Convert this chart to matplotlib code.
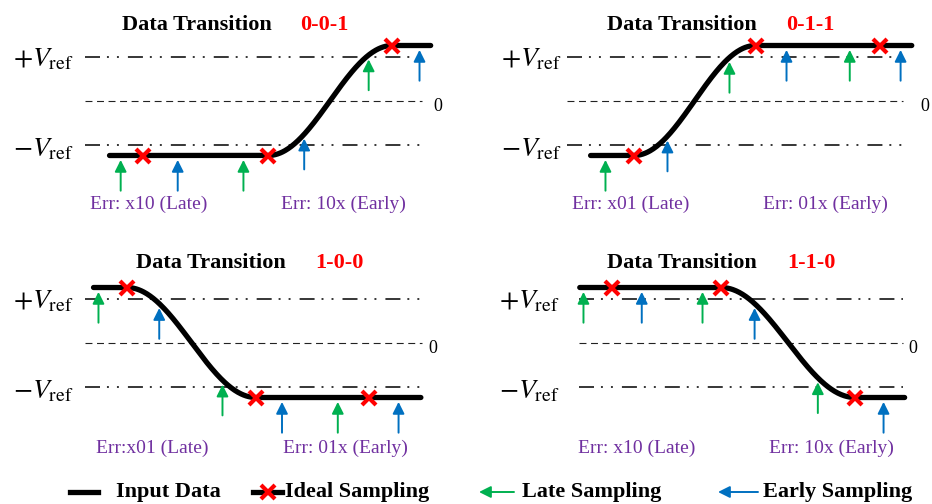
import numpy as np
import matplotlib
matplotlib.use('Agg')
import matplotlib.pyplot as plt

plt.rcParams['font.family'] = ['Liberation Serif', 'DejaVu Serif']
plt.rcParams['mathtext.fontset'] = 'stix'
plt.rcParams['lines.scale_dashes'] = False

# ---- data (time in unit intervals, voltage in units of Vref) ----
codes = ['0-0-1', '0-1-1', '1-0-0', '1-1-0']
bits = ['001', '011', '100', '110']
ideal_t = [[0, 1.01, 2.01], [0, 0.98, 1.98], [0, 1.04, 1.95], [0, 0.88, 1.96]]
late_t = [[-0.18, 0.81, 1.82], [-0.23, 0.77, 1.74], [-0.23, 0.77, 1.70], [-0.23, 0.73, 1.66]]
early_t = [[0.28, 1.30, 2.23], [0.27, 1.23, 2.15], [0.26, 1.25, 2.19], [0.24, 1.15, 2.19]]
wave_span = [(-0.27, 2.32), (-0.35, 2.24), (-0.27, 2.37), (-0.26, 2.36)]
ref_span = [(-0.47, 2.25), (-0.54, 2.17), (-0.34, 2.38), (-0.27, 2.35)]
late_labels = ['Err: x10 (Late)', 'Err: x01 (Late)', 'Err:x01 (Late)', 'Err: x10 (Late)']
early_labels = ['Err: 10x (Early)', 'Err: 01x (Early)', 'Err: 01x (Early)', 'Err: 10x (Early)']
vref = 1.0
level = 1.25  # settled signal level

GREEN = '#00B050'
BLUE = '#0070C0'
RED = '#FF0000'
PURPLE = '#7030A0'

# ---- layout (pixels) ----
W, H = 932, 504
UI = 124    # px per unit interval
VPX = 44    # px per Vref unit
origins = [(143, 100.5), (634, 100.5), (127, 342.5), (612, 342.5)]
boxes = [(0, 0, 466, 236), (466, 0, 466, 236), (0, 238, 466, 232), (466, 238, 466, 232)]
title_pos = [((197, 25), (324, 25)), ((682, 25), (810, 25)),
             ((211, 263), (339, 263)), ((682, 263), (811, 263))]
err_pos = [((149, 204), (343, 204)), ((631, 204), (825, 204)),
           ((152, 448), (345, 448)), ((637, 448), (831, 448))]
ylab_x = [13, 501, 13, 499]
zero_x = [433, 920, 428, 908]

DASHDOT = (0, (10.8, 5.0, 1.4, 5.8, 1.4, 6.5))
DASHED = (0, (5.0, 3.3))


def wave(t, b, ideal):
    lv = [level if c == '1' else -level for c in b]
    k = [i for i in range(2) if b[i] != b[i + 1]][0]
    t0, t1 = ideal[k], ideal[k + 1]
    frac = np.clip((t - t0) / (t1 - t0), 0, 1)
    s = (1 - np.cos(np.pi * frac)) / 2
    return lv[k] + (lv[k + 1] - lv[k]) * s


def fx(x):
    return x / W


def fy(y):
    return 1 - y / H


fig = plt.figure(figsize=(W / 100, H / 100), dpi=100)

for i in range(4):
    X0, Y0 = origins[i]
    bx, by, bw, bh = boxes[i]
    ax = fig.add_axes([bx / W, 1 - (by + bh) / H, bw / W, bh / H])
    ax.set_xlim((bx - X0) / UI, (bx + bw - X0) / UI)
    ax.set_ylim((Y0 - (by + bh)) / VPX, (Y0 - by) / VPX)
    ax.axis('off')

    r0, r1 = ref_span[i]
    ax.plot([r0, r1], [vref, vref], color='black', lw=1.1, linestyle=DASHDOT)
    ax.plot([r0, r1], [-vref, -vref], color='black', lw=1.1, linestyle=DASHDOT)
    ax.plot([r0, r1], [0, 0], color='#222222', lw=0.8, linestyle=DASHED)

    t = np.linspace(wave_span[i][0], wave_span[i][1], 400)
    ax.plot(t, wave(t, bits[i], ideal_t[i]), color='black', lw=3.8, solid_capstyle='round')

    for ts, col in [(late_t[i], GREEN), (early_t[i], BLUE)]:
        for tt in ts:
            head = wave(tt, bits[i], ideal_t[i]) - 0.1
            ax.annotate('', xy=(tt, head), xytext=(tt, head - 0.7),
                        arrowprops=dict(arrowstyle='-|>,head_length=0.5,head_width=0.25',
                                        color=col, lw=1.4, shrinkA=0, shrinkB=0,
                                        mutation_scale=14))

    iv = [wave(tt, bits[i], ideal_t[i]) for tt in ideal_t[i]]
    ax.plot(ideal_t[i], iv, linestyle='none', marker='x', color=RED, ms=10, mew=3, zorder=5)

    (tx, ty), (cx, cy) = title_pos[i]
    fig.text(fx(tx), fy(ty), 'Data Transition', ha='center', va='center',
             fontsize=16, fontweight='bold', color='black')
    fig.text(fx(cx), fy(cy), codes[i], ha='center', va='center',
             fontsize=16, fontweight='bold', color=RED)
    (lx, ly), (ex, ey) = err_pos[i]
    fig.text(fx(lx), fy(ly), late_labels[i], ha='center', va='center', fontsize=14, color=PURPLE)
    fig.text(fx(ex), fy(ey), early_labels[i], ha='center', va='center', fontsize=14, color=PURPLE)

    fig.text(fx(ylab_x[i]), fy(Y0 - 41), r'$+V_{\mathrm{ref}}$', ha='left', va='center', fontsize=20)
    fig.text(fx(ylab_x[i]), fy(Y0 + 49), r'$-V_{\mathrm{ref}}$', ha='left', va='center', fontsize=20)
    fig.text(fx(zero_x[i]), fy(Y0 + 6), '0', ha='left', va='center', fontsize=13)

# ---- legend strip ----
lax = fig.add_axes([0, 0, 1, 34 / H])
lax.set_xlim(0, W)
lax.set_ylim(504, 470)
lax.axis('off')
ly = 492
lax.plot([70, 98], [ly, ly], color='black', lw=3.8)
lax.plot([253, 282], [ly, ly], color='black', lw=3.8)
lax.plot([268], [ly], marker='x', color=RED, ms=10, mew=3)
lax.annotate('', xy=(479, ly), xytext=(514, ly),
             arrowprops=dict(arrowstyle='-|>,head_length=0.5,head_width=0.25', color=GREEN,
                             lw=1.4, shrinkA=0, shrinkB=0, mutation_scale=14))
lax.annotate('', xy=(718, ly), xytext=(758, ly),
             arrowprops=dict(arrowstyle='-|>,head_length=0.5,head_width=0.25', color=BLUE,
                             lw=1.4, shrinkA=0, shrinkB=0, mutation_scale=14))
for x, s in [(116, 'Input Data'), (285, 'Ideal Sampling'), (522, 'Late Sampling'), (763, 'Early Sampling')]:
    lax.text(x, ly, s, ha='left', va='center', fontsize=16, fontweight='bold')

fig.savefig('out.png', dpi=100)
